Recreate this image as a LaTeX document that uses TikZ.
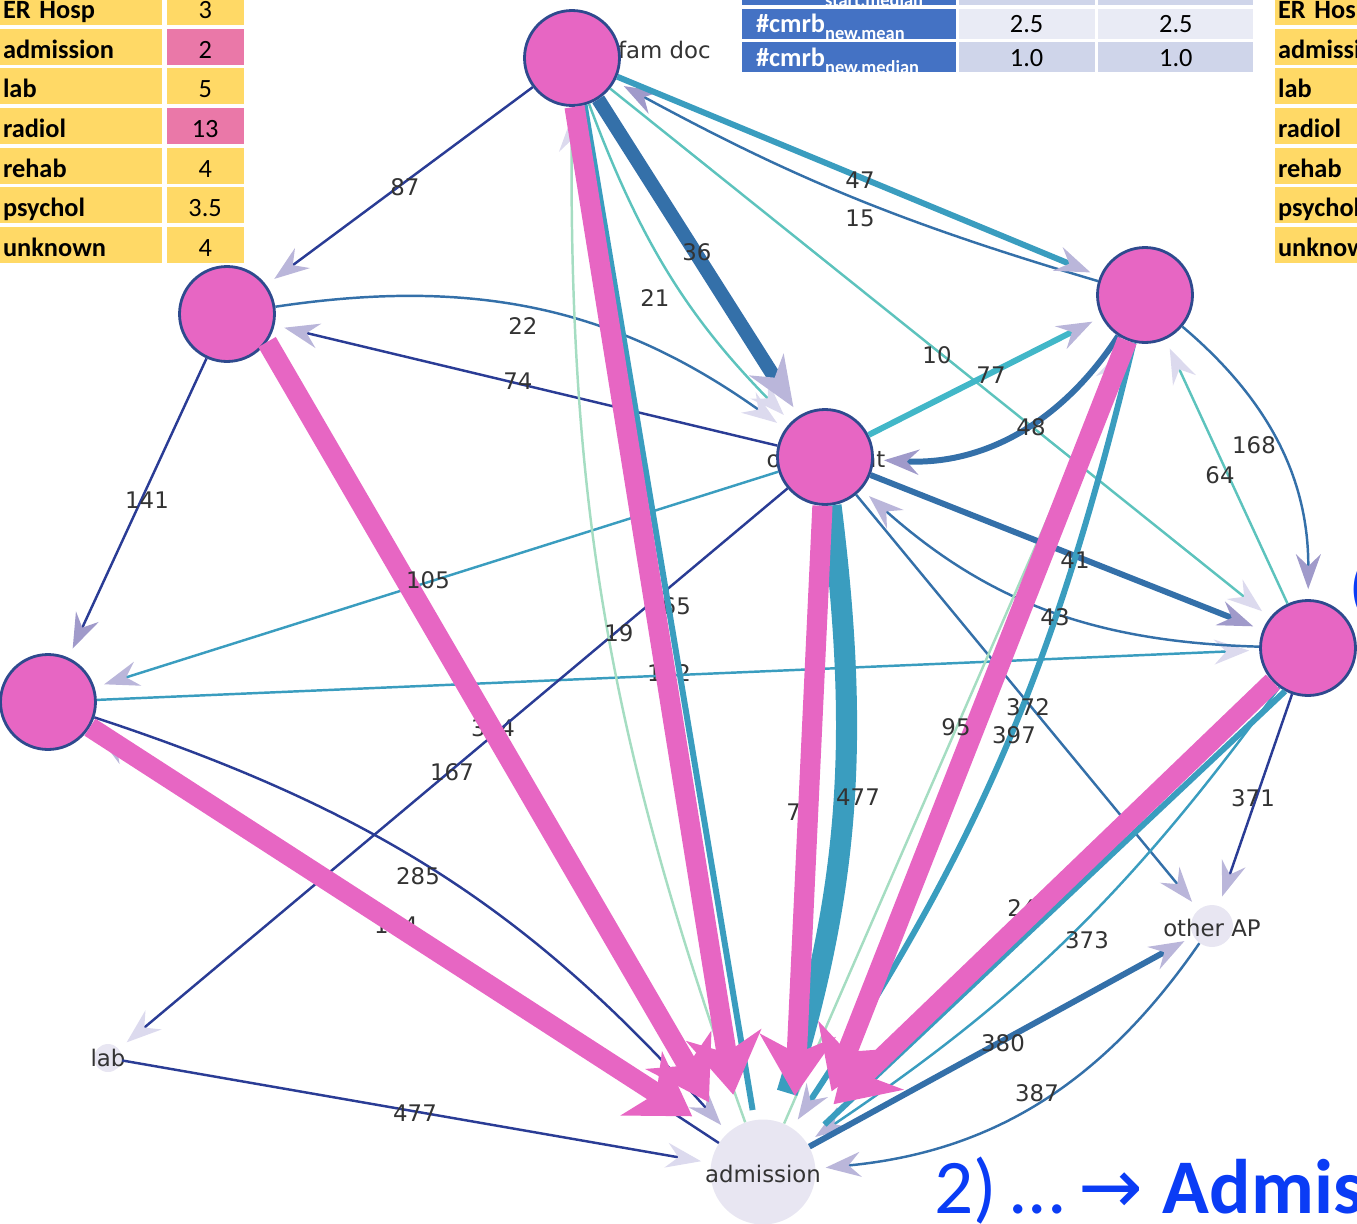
\documentclass[tikz,border=0pt]{standalone}
\usepackage{fontspec}
\setmainfont{DejaVu Sans}
\newfontfamily\calfont{Carlito}
\newfontfamily\symfont{DejaVu Sans}
\usepackage{tikz}
\usetikzlibrary{arrows.meta,positioning,calc}

\definecolor{pinkn}{HTML}{E766C3}
\definecolor{nodeedge}{HTML}{2E4A8E}
\definecolor{lavnode}{HTML}{E8E6F2}
\definecolor{lavA}{HTML}{BAB6DA}
\definecolor{lavB}{HTML}{A09ACA}
\definecolor{lavC}{HTML}{DCDAEE}
\definecolor{navy}{HTML}{2A3C95}
\definecolor{steel}{HTML}{3470A9}
\definecolor{teal}{HTML}{3A9DBF}
\definecolor{lteal}{HTML}{42B7C8}
\definecolor{mint}{HTML}{5DC3BD}
\definecolor{lgreen}{HTML}{A5DDC2}
\definecolor{lblgray}{HTML}{333333}
\definecolor{tyel}{HTML}{FFD966}
\definecolor{tpink}{HTML}{EA78A8}
\definecolor{hblue}{HTML}{4472C4}
\definecolor{cella}{HTML}{E9EBF5}
\definecolor{cellb}{HTML}{CFD5EA}
\definecolor{tblue}{HTML}{0A3CF5}

\begin{document}
\begin{tikzpicture}[x=0.02cm, y=-0.02cm,
pnode/.style = {draw=nodeedge, circle, fill=pinkn, line width=1.6pt, minimum size=1.9cm, inner sep=0pt},
snode/.style = {circle, fill=lavnode, inner sep=0pt},
elbl/.style = {font=\fontsize{13}{15}\selectfont, text=lblgray, inner sep=1pt},
thinl/.style = {line width=1.4pt, shorten >=0.2cm},
midl/.style = {line width=3.4pt, shorten >=0.2cm},
tipA/.style = {-{Stealth[length=7mm, width=5mm, inset=2.4mm, color=lavA]}},
tipB/.style = {-{Stealth[length=7mm, width=5mm, inset=2.4mm, color=lavB]}},
tipC/.style = {-{Stealth[length=7mm, width=5mm, inset=2.4mm, color=lavC]}},
bigtip/.style = {-{Stealth[length=10mm, width=8mm, inset=3mm, color=lavA]}},
pinkedge/.style = {draw=pinkn, line width=11.5pt,
                   -{Stealth[length=12mm, width=15mm, inset=3.5mm, color=pinkn]}},
tlab/.style = {fill=tyel, font=\calfont\bfseries\fontsize{15}{17}\selectfont, text width=3.12cm,
               inner xsep=0.06cm, inner ysep=0pt, minimum height=0.72cm, align=left,
               text height=13pt, text depth=0pt},
tval/.style = {fill=tyel, font=\calfont\fontsize{15}{17}\selectfont, minimum width=1.54cm,
               minimum height=0.72cm, inner sep=0pt, text height=13pt, text depth=0pt},
hcell/.style = {fill=hblue, text=white, font=\calfont\bfseries\fontsize{15}{17}\selectfont,
                text width=3.72cm, inner xsep=0.28cm, inner ysep=0pt, align=left,
                text height=0.48cm, text depth=0.12cm},
vcell/.style = {font=\calfont\fontsize{15}{17}\selectfont, inner sep=0pt,
                text height=0.48cm, text depth=0.12cm},
]
\useasboundingbox (0,0) rectangle (1357,1224);
\clip (0,0) rectangle (1357,1224);

% left table
\node[tlab] (erhosp) at (81,7) {ER Hosp};
\node[tval, right=0.08cm of erhosp] (erhospv) {3};
\node[tlab, below=0.06cm of erhosp] (adm) {admission};
\node[tval, right=0.08cm of adm, fill=tpink] (admv) {2};
\node[tlab, below=0.06cm of adm] (labt) {lab};
\node[tval, right=0.08cm of labt] (labv) {5};
\node[tlab, below=0.06cm of labt] (radiol) {radiol};
\node[tval, right=0.08cm of radiol, fill=tpink] (radiolv) {13};
\node[tlab, below=0.06cm of radiol] (rehab) {rehab};
\node[tval, right=0.08cm of rehab] (rehabv) {4};
\node[tlab, below=0.06cm of rehab] (psychol) {psychol};
\node[tval, right=0.08cm of psychol] (psycholv) {3.5};
\node[tlab, below=0.06cm of psychol] (unknown) {unknown};
\node[tval, right=0.08cm of unknown] (unknownv) {4};

% right table (cut off)
\node[tlab] (erhosp2) at (1356,7) {ER Hosp};
\node[tlab, below=0.06cm of erhosp2] (adm2) {admission};
\node[tlab, below=0.06cm of adm2] (labt2) {lab};
\node[tlab, below=0.06cm of labt2] (radiol2) {radiol};
\node[tlab, below=0.06cm of radiol2] (rehab2) {rehab};
\node[tlab, below=0.06cm of rehab2] (psychol2) {psychol};
\node[tlab, below=0.06cm of psychol2] (unknown2) {unknown};

% middle table
\node[hcell] (cmrbstart) at (849,-10) {\#cmrb\raisebox{-4pt}{\fontsize{10.5}{11}\selectfont start,median}};
\node[vcell, fill=cellb, minimum width=2.72cm, right=0.04cm of cmrbstart] (startv1) {};
\node[vcell, fill=cellb, minimum width=3.1cm, right=0.06cm of startv1] (startv2) {};
\node[hcell, below=0.06cm of cmrbstart] (cmrbmean) {\#cmrb\raisebox{-4pt}{\fontsize{10.5}{11}\selectfont new,mean}};
\node[vcell, fill=cella, minimum width=2.72cm, right=0.04cm of cmrbmean] (meanv1) {2.5};
\node[vcell, fill=cella, minimum width=3.1cm, right=0.06cm of meanv1] (meanv2) {2.5};
\node[hcell, below=0.06cm of cmrbmean] (cmrbmed) {\#cmrb\raisebox{-4pt}{\fontsize{10.5}{11}\selectfont new,median}};
\node[vcell, fill=cellb, minimum width=2.72cm, right=0.04cm of cmrbmed] (medv1) {1.0};
\node[vcell, fill=cellb, minimum width=3.1cm, right=0.06cm of medv1] (medv2) {1.0};

% labels partly hidden under the pink connectors
\node[elbl] (l165) at (669,606) {165};
\node[elbl] (l142) at (669,673) {142};
\node[elbl] (l304) at (493,728) {304};
\node[elbl] (l154) at (396,925) {154};
\node[elbl] (l73) at (801,812) {73};
\node[elbl] (l24) at (1022,908) {24};

% graph nodes
\node[elbl, anchor=west] (famlbl) at (616,50) {fam doc};
\node[pnode] (famdoc) at (572,58) {};
\node[elbl] (hublbl) at (826,461) {outpatient};
\node[pnode] (hub) at (825,457) {};
\node[pnode] (left1) at (227,314) {};
\node[pnode] (left2) at (48,702) {};
\node[pnode] (right1) at (1145,295) {};
\node[pnode] (right2) at (1308,648) {};
\node[snode, minimum size=0.56cm] (lab) at (108,1058) {};
\node[elbl] (lablbl) at (108,1058) {lab};
\node[snode, minimum size=0.84cm] (otherap) at (1212,926) {};
\node[elbl] (otheraplbl) at (1212,928) {other AP};
\node[snode, minimum size=2.1cm] (admission) at (763,1172) {};
\node[elbl] (admlbl) at (763,1174) {admission};

% thin connectors
\draw[navy, thinl, tipA] (famdoc) -- (left1);
\draw[navy, thinl, tipB] (left1) -- (left2);
\draw[navy, thinl, tipA] (hub) -- (left1);
\draw[steel, thinl, tipC] (left1) to[bend left=22] (hub);
\draw[teal, thinl, tipA] (hub) -- (left2);
\draw[teal, thinl, tipC] (left2) -- (right2);
\draw[navy, thinl, tipC] (hub) -- (lab);
\draw[navy, thinl, tipA] (left2) to[bend left=15] (admission);
\draw[navy, thinl, tipA] (admission) -- (left2);
\draw[navy, thinl, tipC] (lab) -- (admission);
\draw[mint, thinl, tipC] (famdoc) to[bend right=12] (hub);
\draw[mint, thinl, tipC] (famdoc) -- (right2);
\draw[lgreen, thinl, tipC] (admission) to[bend left=10] (famdoc);
\draw[steel, thinl, tipB] (right1) to[bend left=6] (famdoc);
\draw[steel, thinl, tipB] (right1) to[bend left=25] (right2);
\draw[mint, thinl, tipC] (right2) -- (right1);
\draw[steel, thinl, tipA] (right2) to[bend left=20] (hub);
\draw[steel, thinl, tipA] (hub) -- (otherap);
\draw[navy, thinl, tipA] (right2) -- (otherap);
\draw[steel, thinl, tipA] (otherap) to[bend left=25] (admission);
\draw[lgreen, thinl, tipC] (admission) -- (right1);
\draw[teal, thinl, tipA] (right2) to[bend left=10] (admission);

% medium connectors
\draw[teal, midl, tipA] (famdoc) -- (right1);
\draw[lteal, midl, tipA] (hub) -- (right1);
\draw[steel, midl, tipB] (right1) to[bend left=30] (hub);
\draw[steel, midl, tipB] (hub) -- (right2);
\draw[teal, midl] (famdoc.-75) -- (admission);
\draw[teal, midl, tipA] (right1) to[bend left=10] (admission);
\draw[teal, midl, shorten >=0.5cm] (right2.-118) -- (admission.35);
\draw[steel, midl, tipA] (admission) -- (otherap);

% thick connectors
\draw[steel, line width=8pt, shorten >=0.2cm, bigtip] (famdoc) -- (hub);
\draw[teal, line width=12pt, shorten >=0.6cm] (hub) to[bend left=12] (admission);

% pink connectors
\path (famdoc.-87) edge[pinkedge, shorten >=0.62cm] (admission.118)
      (left1.-35) edge[pinkedge, shorten >=0.72cm] (admission.133)
      (left2.-31) edge[pinkedge, shorten >=0.75cm] (admission.138)
      (hub.-93) edge[pinkedge, shorten >=0.66cm] (admission.55)
      (right1) edge[pinkedge, shorten >=1.2cm] (admission.28)
      (right2) edge[pinkedge, shorten >=0.9cm] (admission);

% edge labels
\node[elbl] (l87) at (405,187) {87};
\node[elbl] (l36) at (697,252) {36};
\node[elbl] (l21) at (655,298) {21};
\node[elbl] (l47) at (860,180) {47};
\node[elbl] (l15) at (860,218) {15};
\node[elbl] (l10) at (937,355) {10};
\node[elbl] (l77) at (991,375) {77};
\node[elbl] (l48) at (1031,427) {48};
\node[elbl] (l22) at (523,326) {22};
\node[elbl] (l74) at (518,381) {74};
\node[elbl] (l141) at (147,500) {141};
\node[elbl] (l168) at (1254,445) {168};
\node[elbl] (l64) at (1220,475) {64};
\node[elbl] (l105) at (428,580) {105};
\node[elbl] (l41) at (1075,560) {41};
\node[elbl] (l43) at (1055,617) {43};
\node[elbl] (l19) at (619,633) {19};
\node[elbl] (l372) at (1028,707) {372};
\node[elbl] (l397) at (1014,735) {397};
\node[elbl] (l95) at (956,727) {95};
\node[elbl] (l167) at (452,772) {167};
\node[elbl] (l477a) at (858,797) {477};
\node[elbl] (l371) at (1253,798) {371};
\node[elbl] (l285) at (418,876) {285};
\node[elbl] (l373) at (1087,940) {373};
\node[elbl] (l380) at (1003,1043) {380};
\node[elbl] (l387) at (1037,1093) {387};
\node[elbl] (l477b) at (415,1113) {477};

% side texts
\node[text=tblue, font=\calfont\fontsize{36}{36}\selectfont, inner sep=0pt] (paren) at (1359,590) {(};
\node[anchor=base west, text=tblue, font=\calfont\fontsize{44}{46}\selectfont, inner xsep=0pt] (caption) at (934,1213)
     {2)\hspace{0.15em}...\hspace{0.15em}{\symfont →}\hspace{0.25em}\textbf{Admis}};
\end{tikzpicture}
\end{document}
